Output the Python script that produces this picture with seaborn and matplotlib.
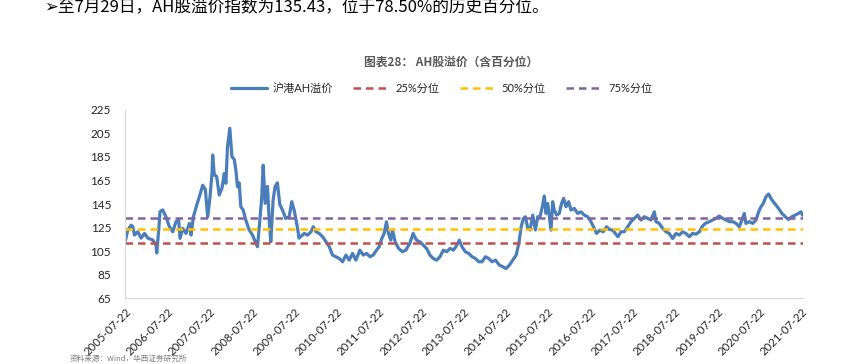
import pandas as pd
import matplotlib
matplotlib.use("Agg")
import matplotlib.pyplot as plt
import matplotlib.dates as mdates
import seaborn as sns

# 沪港AH溢价指数, values
dates = [
    "2005-07-22", "2005-08-14", "2005-09-12", "2005-09-26", "2005-10-10", "2005-11-08",
    "2005-12-07", "2006-01-05", "2006-02-03", "2006-03-18", "2006-04-15", "2006-04-21",
    "2006-05-08", "2006-05-19", "2006-06-11", "2006-07-10", "2006-08-08", "2006-09-06",
    "2006-10-04", "2006-10-27", "2006-11-08", "2006-12-01", "2006-12-30", "2007-01-28",
    "2007-02-11", "2007-03-03", "2007-04-01", "2007-04-24", "2007-05-23", "2007-06-15",
    "2007-07-05", "2007-07-25", "2007-08-11", "2007-08-17", "2007-08-31", "2007-09-20",
    "2007-10-13", "2007-11-05", "2007-11-25", "2007-12-09", "2007-12-23", "2008-01-12",
    "2008-01-30", "2008-02-19", "2008-03-04", "2008-03-18", "2008-04-02", "2008-04-16",
    "2008-05-06", "2008-05-29", "2008-06-27", "2008-07-26", "2008-08-24", "2008-09-07",
    "2008-09-27", "2008-10-14", "2008-10-26", "2008-11-12", "2008-12-02", "2008-12-17",
    "2008-12-31", "2009-01-20", "2009-02-06", "2009-02-26", "2009-03-18", "2009-04-10",
    "2009-05-09", "2009-06-07", "2009-06-30", "2009-07-20", "2009-08-18", "2009-09-01",
    "2009-10-16", "2009-11-14", "2009-12-13", "2010-01-02", "2010-01-25", "2010-02-22",
    "2010-03-23", "2010-04-21", "2010-05-20", "2010-06-17", "2010-07-16", "2010-08-14",
    "2010-09-12", "2010-10-11", "2010-11-08", "2010-12-07", "2011-01-05", "2011-02-08",
    "2011-03-09", "2011-04-07", "2011-05-06", "2011-06-03", "2011-07-02", "2011-07-25",
    "2011-08-17", "2011-09-06", "2011-09-26", "2011-10-13", "2011-11-02", "2011-11-17",
    "2011-12-10", "2012-01-08", "2012-02-11", "2012-03-11", "2012-04-14", "2012-05-13",
    "2012-06-11", "2012-07-10", "2012-08-08", "2012-09-06", "2012-10-05", "2012-11-03",
    "2012-12-02", "2012-12-31", "2013-01-29", "2013-02-27", "2013-03-28", "2013-04-25",
    "2013-05-18", "2013-06-16", "2013-07-09", "2013-08-07", "2013-09-05", "2013-10-04",
    "2013-11-02", "2013-12-01", "2013-12-29", "2014-01-27", "2014-02-25", "2014-03-26",
    "2014-04-24", "2014-05-28", "2014-06-26", "2014-07-25", "2014-08-23", "2014-09-21",
    "2014-10-20", "2014-11-12", "2014-12-02", "2014-12-22", "2015-01-08", "2015-01-28",
    "2015-02-17", "2015-03-12", "2015-04-04", "2015-04-24", "2015-05-14", "2015-06-06",
    "2015-06-20", "2015-07-04", "2015-07-19", "2015-08-02", "2015-08-17", "2015-08-31",
    "2015-09-14", "2015-10-04", "2015-10-27", "2015-11-16", "2015-12-04", "2015-12-24",
    "2016-01-16", "2016-02-05", "2016-03-05", "2016-04-03", "2016-05-01", "2016-05-30",
    "2016-06-28", "2016-07-27", "2016-08-24", "2016-09-13", "2016-10-12", "2016-11-10",
    "2016-12-09", "2017-01-01", "2017-01-30", "2017-02-22", "2017-03-17", "2017-04-12",
    "2017-05-11", "2017-06-09", "2017-07-08", "2017-08-05", "2017-09-03", "2017-10-02",
    "2017-10-31", "2017-11-29", "2017-12-27", "2018-01-25", "2018-02-08", "2018-03-09",
    "2018-04-07", "2018-05-06", "2018-06-03", "2018-07-02", "2018-07-31", "2018-08-29",
    "2018-09-26", "2018-10-25", "2018-11-23", "2018-12-22", "2019-01-20", "2019-02-18",
    "2019-03-13", "2019-04-10", "2019-05-15", "2019-06-13", "2019-07-11", "2019-08-09",
    "2019-09-07", "2019-10-06", "2019-11-04", "2019-12-03", "2020-01-01", "2020-01-29",
    "2020-02-21", "2020-03-12", "2020-03-26", "2020-04-24", "2020-05-23", "2020-06-21",
    "2020-07-14", "2020-08-03", "2020-08-23", "2020-09-15", "2020-10-08", "2020-10-28",
    "2020-11-17", "2020-12-10", "2021-01-02", "2021-01-31", "2021-03-01", "2021-03-29",
    "2021-04-27", "2021-05-26", "2021-06-24", "2021-07-14", "2021-07-29",
]
ah_premium = [
    113.0, 122.9, 127.0, 126.0, 118.6, 121.4,
    116.0, 120.0, 116.0, 114.4, 110.0, 103.3,
    123.0, 138.5, 140.0, 134.0, 125.7, 121.4,
    130.0, 131.5, 115.8, 124.3, 120.0, 128.5,
    118.6, 134.0, 144.0, 151.2, 161.0, 157.0,
    134.0, 151.0, 171.0, 186.7, 169.7, 168.5,
    152.7, 158.4, 171.0, 162.6, 193.8, 209.4,
    185.3, 183.0, 174.0, 159.7, 163.0, 142.7,
    140.0, 131.4, 123.0, 118.6, 111.6, 108.7,
    131.0, 151.2, 178.0, 145.6, 160.0, 131.0,
    113.0, 148.5, 159.7, 163.0, 145.0, 140.0,
    132.8, 134.0, 147.0, 140.0, 125.0, 116.0,
    120.0, 118.6, 121.4, 125.7, 121.4, 120.0,
    117.2, 112.9, 108.7, 101.6, 100.2, 98.7,
    95.9, 101.6, 97.3, 103.0, 97.3, 105.8,
    101.6, 103.0, 100.2, 101.6, 105.8, 108.7,
    115.8, 120.0, 129.9, 120.0, 114.3, 122.9,
    112.9, 107.3, 104.4, 105.8, 111.5, 120.0,
    114.3, 112.9, 110.1, 107.3, 101.6, 98.7,
    97.3, 100.2, 105.8, 104.4, 107.3, 105.8,
    108.7, 114.3, 108.7, 104.4, 103.0, 100.2,
    98.7, 95.9, 95.9, 100.2, 98.7, 95.9,
    97.3, 93.1, 91.6, 90.2, 93.1, 97.3,
    101.6, 111.5, 125.7, 132.8, 134.2, 124.3,
    122.9, 135.6, 122.9, 134.2, 134.2, 144.1,
    151.8, 137.0, 145.5, 134.2, 122.8, 147.0,
    139.9, 135.6, 137.0, 145.5, 149.8, 142.7,
    147.0, 139.9, 141.3, 137.0, 138.4, 135.6,
    134.2, 130.0, 124.3, 120.0, 122.8, 121.4,
    125.7, 123.4, 122.8, 120.0, 117.2, 121.4,
    121.4, 125.7, 130.0, 132.8, 135.6, 131.4,
    134.2, 132.8, 131.4, 138.4, 130.0, 128.5,
    124.3, 121.4, 120.0, 115.7, 120.0, 118.6,
    121.4, 120.0, 117.2, 120.0, 119.4, 121.4,
    125.7, 128.5, 130.0, 131.4, 132.8, 134.8,
    132.8, 131.4, 130.0, 130.0, 128.5, 125.7,
    131.4, 137.0, 128.5, 130.0, 128.5, 131.4,
    138.4, 142.7, 145.5, 151.2, 153.5, 149.8,
    147.0, 144.1, 141.3, 137.0, 134.2, 131.9,
    134.2, 135.6, 137.0, 138.4, 135.43,
]

# 历史分位
pct_labels = ["25%分位", "50%分位", "75%分位"]
pct_values = [111.7, 124.0, 133.2]
pct_colors = ["#C0504D", "#FFC000", "#8064A2"]

tick_years = list(range(2005, 2022))

df = pd.DataFrame({"date": pd.to_datetime(dates), "value": ah_premium})

sns.set_theme(style="white")
plt.rcParams["font.family"] = ["Lato", "Noto Sans CJK SC", "DejaVu Sans"]

fig = plt.figure(figsize=(8.54, 3.64), dpi=100)
ax = fig.add_axes([0.1464, 0.181, 0.7936, 0.517])

sns.lineplot(data=df, x="date", y="value", ax=ax, color="#4A7EBB",
             linewidth=2.3, label="沪港AH溢价")
for lab, v, c in zip(pct_labels, pct_values, pct_colors):
    ax.axhline(v, color=c, linestyle=(0, (3, 2)), linewidth=1.8, label=lab)

ax.set_ylim(65, 225)
ax.set_yticks(range(65, 226, 20))
ax.set_xlim(pd.Timestamp("2005-07-21"), pd.Timestamp("2021-07-30"))
ax.set_xticks([pd.Timestamp(f"{y}-07-22") for y in tick_years])
ax.xaxis.set_major_formatter(mdates.DateFormatter("%Y-%m-%d"))
plt.setp(ax.get_xticklabels(), rotation=45, ha="right", rotation_mode="anchor")
ax.set_xlabel("")
ax.set_ylabel("")
ax.tick_params(axis="both", colors="#D9D9D9", labelcolor="#262626", length=4, width=0.8)
ax.tick_params(axis="y", labelsize=8.5, pad=6)
ax.tick_params(axis="x", labelsize=8.2, pad=2)

sns.despine(ax=ax)
for s in ["left", "bottom"]:
    ax.spines[s].set_color("#D9D9D9")
    ax.spines[s].set_linewidth(0.9)

handles, labels = ax.get_legend_handles_labels()
ax.get_legend().remove()
fig.legend(handles, labels, loc="center", bbox_to_anchor=(0.517, 0.758), ncol=4,
           frameon=False, fontsize=8, handlelength=3.3, columnspacing=1.8,
           handletextpad=0.5)

fig.text(0.528, 0.830, "图表28： AH股溢价（含百分位）", ha="center", va="center",
         fontsize=8.5, fontweight="bold", color="#595959",
         family=["Noto Sans CJK SC", "DejaVu Sans"])

fig.text(0.052, 1 - 8 / 364, "➢至7月29日，AH股溢价指数为135.43，位于78.50%的历史百分位。",
         ha="left", va="center", fontsize=12, color="#000000",
         family=["Noto Sans CJK SC", "DejaVu Sans"])

fig.text(0.082, 0.003, "资料来源：Wind，华西证券研究所", ha="left", va="bottom",
         fontsize=5.5, color="#7F7F7F", family=["Noto Sans CJK SC", "DejaVu Sans"])

fig.savefig("out.png", dpi=100)
